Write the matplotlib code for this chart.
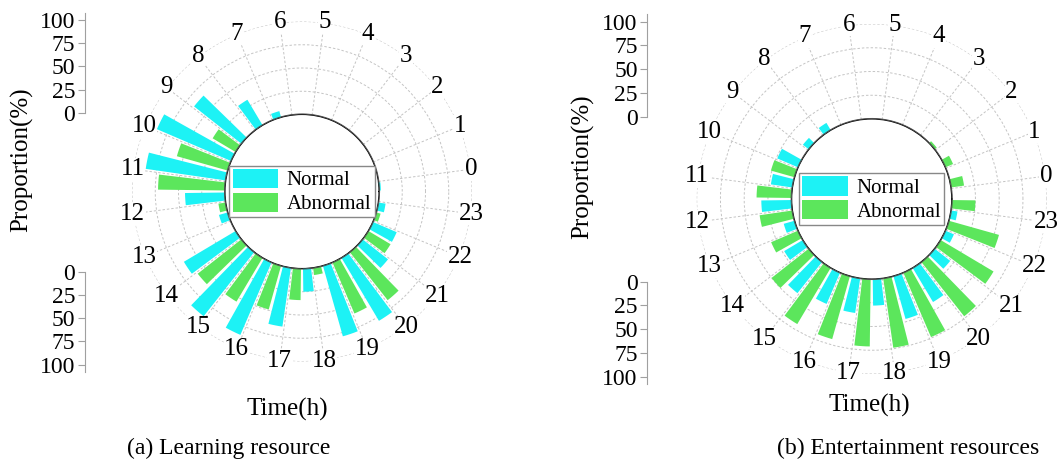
import numpy as np
import matplotlib
matplotlib.use("Agg")
import matplotlib.pyplot as plt

plt.rcParams['font.family'] = ['Liberation Serif', 'DejaVu Serif']

hours = list(range(24))

# proportion (%) of active users per hour
learn_normal = [2, 0, 0, 0, 0, 0, 0, 7, 32, 65, 87, 87,
                43, 10, 65, 88, 85, 64, 25, 79, 79, 35, 28, 8]
learn_abnormal = [0, 0, 0, 0, 0, 0, 0, 0, 0, 29, 57, 72,
                  8, 0, 60, 55, 49, 34, 8, 60, 66, 28, 5, 0]

ent_normal = [0, 0, 0, 0, 0, 0, 0, 0, 9, 8, 24, 23,
              32, 12, 23, 42, 36, 37, 28, 47, 42, 21, 10, 7]
ent_abnormal = [14, 9, 3, 0, 0, 0, 0, 0, 0, 0, 26, 37,
                35, 31, 50, 69, 69, 71, 74, 74, 73, 65, 55, 25]

scale_ticks = [0, 25, 50, 75, 100]

CYAN = '#1DF2F5'
GREEN = '#5CE65C'
W, H = 1063, 469

fig = plt.figure(figsize=(W / 100, H / 100), dpi=100)


def px_box(cx, cy, rad):
    # pixel centre/radius -> figure fraction box
    return [(cx - rad) / W, (H - cy - rad) / H, 2 * rad / W, 2 * rad / H]


def rose(cx, cy, r0, k, normal, abnormal):
    rmax = 100
    rad = (rmax + r0 / k) * k
    ax = fig.add_axes(px_box(cx, cy, rad), projection='polar')
    ax.set_rorigin(-r0 / k)
    ax.set_ylim(0, rmax)

    step = 2 * np.pi / 24
    th = np.array(hours) * step
    bw = np.deg2rad(6)
    ax.bar(th + step * 0.25, normal, width=bw, color=CYAN, label='Normal', zorder=3)
    ax.bar(th + step * 0.75, abnormal, width=bw, color=GREEN, label='Abnormal', zorder=3)

    # inner ring
    t = np.linspace(0, 2 * np.pi, 400)
    ax.plot(t, np.zeros_like(t), color='#4d4d4d', lw=1.5, zorder=4)

    ax.set_xticks(th + step * 0.5)
    ax.set_xticklabels([])
    ax.set_yticks(scale_ticks[1:])
    ax.set_yticklabels([])
    ax.grid(True, color='#c4c4c4', ls=(0, (2.5, 2)), lw=0.7)
    ax.spines['polar'].set_visible(False)
    ax.tick_params(length=0)

    for h in hours:
        ax.text(th[h] + step * 0.5, rmax + 1, str(h), ha='center', va='center',
                fontsize=18, clip_on=False, zorder=5,
                bbox=dict(fc='white', ec='none', pad=0.3))

    leg = ax.legend(loc='center', bbox_to_anchor=(0.5, 0.5), fontsize=15,
                    handlelength=2.2, handleheight=1.05, labelspacing=0.1,
                    handletextpad=0.4, borderpad=0.15, borderaxespad=0,
                    fancybox=False, framealpha=1)
    leg.get_frame().set_edgecolor('#888888')
    leg.get_frame().set_linewidth(1.0)
    leg.set_zorder(6)
    return ax


def scale_bar(x, y0, k, invert):
    top = 108
    h = top * k
    if invert:
        box = [x / W, (H - y0 - h) / H, 0.004, h / H]
    else:
        box = [x / W, (H - y0) / H, 0.004, h / H]
    sa = fig.add_axes(box)
    sa.set_ylim(0, top)
    if invert:
        sa.invert_yaxis()
    sa.set_yticks(scale_ticks)
    sa.set_yticklabels([str(v) for v in scale_ticks], fontsize=17)
    sa.set_xticks([])
    for s in ['top', 'right', 'bottom']:
        sa.spines[s].set_visible(False)
    sa.spines['left'].set_color('#a0a0a0')
    sa.tick_params(axis='y', length=5, color='#a0a0a0', pad=2)
    sa.patch.set_alpha(0)


# (a) learning resource
rose(302, 191.5, 77, 0.93, learn_normal, learn_abnormal)
scale_bar(85, 113, 0.93, False)
scale_bar(85, 271.7, 0.93, True)
fig.text(22 / W, 1 - 160 / H, 'Proportion(%)', rotation=90,
         ha='center', va='center', fontsize=18)
fig.text(287.5 / W, 1 - 409 / H, 'Time(h)', ha='center', va='center', fontsize=18)
fig.text(229 / W, 1 - 448 / H, '(a) Learning resource', ha='center', va='center',
         fontsize=17)

# (b) entertainment resources
rose(871.7, 199, 80, 0.95, ent_normal, ent_abnormal)
scale_bar(647.3, 116.7, 0.95, False)
scale_bar(647.3, 281.7, 0.95, True)
fig.text(583 / W, 1 - 167 / H, 'Proportion(%)', rotation=90,
         ha='center', va='center', fontsize=18)
fig.text(869 / W, 1 - 405 / H, 'Time(h)', ha='center', va='center', fontsize=18)
fig.text(908 / W, 1 - 448 / H, '(b) Entertainment resources', ha='center',
         va='center', fontsize=17)

fig.savefig('out.png', dpi=100)
